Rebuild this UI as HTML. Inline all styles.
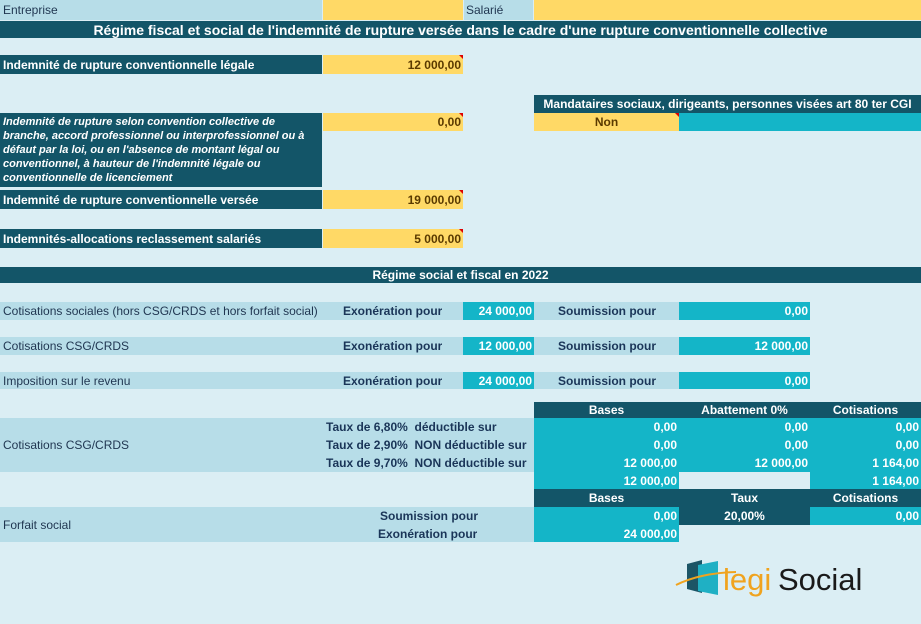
<!DOCTYPE html>
<html><head><meta charset="utf-8"><style>
*{margin:0;padding:0;box-sizing:border-box}
body{width:921px;height:624px;background:#dbeef4;position:relative;overflow:hidden;font-family:"Liberation Sans",sans-serif;font-size:12px}
.b{position:absolute;display:flex;align-items:center;white-space:nowrap;overflow:hidden}
.d{background:#135568;color:#fff;font-weight:bold}
.y{background:#ffd966;color:#5a3a00;font-weight:bold;justify-content:flex-end;padding-right:2px}
.l{background:#b7dde8;color:#1f3550}
.t{background:#14b5c8;color:#fff;font-weight:bold;justify-content:flex-end;padding-right:2px}
.c{justify-content:center}
.lb{color:#1a3558;font-weight:bold}
.y:after{content:"";position:absolute;right:0;top:0;border-top:4px solid #d00;border-left:4px solid transparent}
</style></head><body>
<div class="b l" style="left:0;top:0;width:322px;height:20px;padding-left:3px">Entreprise</div>
<div class="b" style="left:323px;top:0;width:140px;height:20px;background:#ffd966"></div>
<div class="b l" style="left:464px;top:0;width:69px;height:20px;padding-left:2px">Salarié</div>
<div class="b" style="left:534px;top:0;width:387px;height:20px;background:#ffd966"></div>
<div class="b d c" style="left:0;top:21px;width:921px;height:17px;font-size:14px">Régime fiscal et social de l'indemnité de rupture versée dans le cadre d'une rupture conventionnelle collective</div>

<div class="b d" style="left:0;top:55px;width:322px;height:19px;padding-left:3px">Indemnité de rupture conventionnelle légale</div>
<div class="b y" style="left:323px;top:55px;width:140px;height:19px">12 000,00</div>

<div class="b d c" style="left:534px;top:95px;width:387px;height:18px">Mandataires sociaux, dirigeants, personnes visées art 80 ter CGI</div>
<div class="b y c" style="left:534px;top:113px;width:145px;height:18px;padding:0">Non</div>
<div class="b" style="left:679px;top:113px;width:242px;height:18px;background:#14b5c8"></div>

<div class="b d" style="left:0;top:113px;width:322px;height:74px;padding:2px 0 0 3px;white-space:normal;font-style:italic;font-size:11px;line-height:14px;align-items:flex-start">Indemnité de rupture selon convention collective de branche, accord professionnel ou interprofessionnel ou à défaut par la loi, ou en l'absence de montant légal ou conventionnel, à hauteur de l'indemnité légale ou conventionnelle de licenciement</div>
<div class="b y" style="left:323px;top:113px;width:140px;height:18px">0,00</div>

<div class="b d" style="left:0;top:190px;width:322px;height:19px;padding-left:3px">Indemnité de rupture conventionnelle versée</div>
<div class="b y" style="left:323px;top:190px;width:140px;height:19px">19 000,00</div>

<div class="b d" style="left:0;top:229px;width:322px;height:19px;padding-left:3px">Indemnités-allocations reclassement salariés</div>
<div class="b y" style="left:323px;top:229px;width:140px;height:19px">5 000,00</div>

<div class="b d c" style="left:0;top:267px;width:921px;height:16px">Régime social et fiscal en 2022</div>

<div class="b l" style="left:0;top:302px;width:463px;height:18px;padding-left:3px">Cotisations sociales (hors CSG/CRDS et hors forfait social)</div>
<div class="b lb" style="left:343px;top:302px;height:18px">Exonération pour</div>
<div class="b t" style="left:463px;top:302px;width:71px;height:18px">24 000,00</div>
<div class="b l lb" style="left:534px;top:302px;width:145px;height:18px;padding-left:24px">Soumission pour</div>
<div class="b t" style="left:679px;top:302px;width:131px;height:18px">0,00</div>

<div class="b l" style="left:0;top:337px;width:463px;height:18px;padding-left:3px">Cotisations CSG/CRDS</div>
<div class="b lb" style="left:343px;top:337px;height:18px">Exonération pour</div>
<div class="b t" style="left:463px;top:337px;width:71px;height:18px">12 000,00</div>
<div class="b l lb" style="left:534px;top:337px;width:145px;height:18px;padding-left:24px">Soumission pour</div>
<div class="b t" style="left:679px;top:337px;width:131px;height:18px">12 000,00</div>

<div class="b l" style="left:0;top:372px;width:463px;height:17px;padding-left:3px">Imposition sur le revenu</div>
<div class="b lb" style="left:343px;top:372px;height:17px">Exonération pour</div>
<div class="b t" style="left:463px;top:372px;width:71px;height:17px">24 000,00</div>
<div class="b l lb" style="left:534px;top:372px;width:145px;height:17px;padding-left:24px">Soumission pour</div>
<div class="b t" style="left:679px;top:372px;width:131px;height:17px">0,00</div>

<div class="b d c" style="left:534px;top:402px;width:145px;height:16px">Bases</div>
<div class="b d c" style="left:679px;top:402px;width:131px;height:16px">Abattement 0%</div>
<div class="b d c" style="left:810px;top:402px;width:111px;height:16px">Cotisations</div>

<div class="b l" style="left:0;top:418px;width:534px;height:54px;padding-left:3px">Cotisations CSG/CRDS</div>
<div class="b lb" style="left:326px;top:418px;height:18px">Taux de 6,80%&nbsp; déductible sur</div>
<div class="b lb" style="left:326px;top:436px;height:18px">Taux de 2,90%&nbsp; NON déductible sur</div>
<div class="b lb" style="left:326px;top:454px;height:18px">Taux de 9,70%&nbsp; NON déductible sur</div>
<div class="b t" style="left:534px;top:418px;width:145px;height:18px">0,00</div>
<div class="b t" style="left:679px;top:418px;width:131px;height:18px">0,00</div>
<div class="b t" style="left:810px;top:418px;width:111px;height:18px">0,00</div>
<div class="b t" style="left:534px;top:436px;width:145px;height:18px">0,00</div>
<div class="b t" style="left:679px;top:436px;width:131px;height:18px">0,00</div>
<div class="b t" style="left:810px;top:436px;width:111px;height:18px">0,00</div>
<div class="b t" style="left:534px;top:454px;width:145px;height:18px">12 000,00</div>
<div class="b t" style="left:679px;top:454px;width:131px;height:18px">12 000,00</div>
<div class="b t" style="left:810px;top:454px;width:111px;height:18px">1 164,00</div>
<div class="b t" style="left:534px;top:472px;width:145px;height:17px">12 000,00</div>
<div class="b t" style="left:810px;top:472px;width:111px;height:17px">1 164,00</div>

<div class="b d c" style="left:534px;top:489px;width:145px;height:18px">Bases</div>
<div class="b d c" style="left:679px;top:489px;width:131px;height:18px">Taux</div>
<div class="b d c" style="left:810px;top:489px;width:111px;height:18px">Cotisations</div>

<div class="b l" style="left:0;top:507px;width:534px;height:35px;padding-left:3px">Forfait social</div>
<div class="b lb" style="left:380px;top:507px;height:18px">Soumission pour</div>
<div class="b lb" style="left:378px;top:525px;height:17px">Exonération pour</div>
<div class="b t" style="left:534px;top:507px;width:145px;height:18px">0,00</div>
<div class="b d c" style="left:679px;top:507px;width:131px;height:18px">20,00%</div>
<div class="b t" style="left:810px;top:507px;width:111px;height:18px">0,00</div>
<div class="b t" style="left:534px;top:525px;width:145px;height:17px">24 000,00</div>

<svg style="position:absolute;left:670px;top:555px" width="210" height="45">
<polygon points="17,9 32,5 32,38 17,34" fill="#1c5566"/>
<polygon points="28,10 48,6 48,40 28,36" fill="#1fb0c4"/>
<path d="M6,30 Q30,18 66,17" stroke="#f0a31e" stroke-width="2" fill="none"/>
<text x="53" y="35" font-family="Liberation Sans,sans-serif" font-size="31" fill="#f0a31e">legi</text>
<text x="108" y="35" font-family="Liberation Sans,sans-serif" font-size="31" fill="#1a1a1a">Social</text>
</svg>
</body></html>
